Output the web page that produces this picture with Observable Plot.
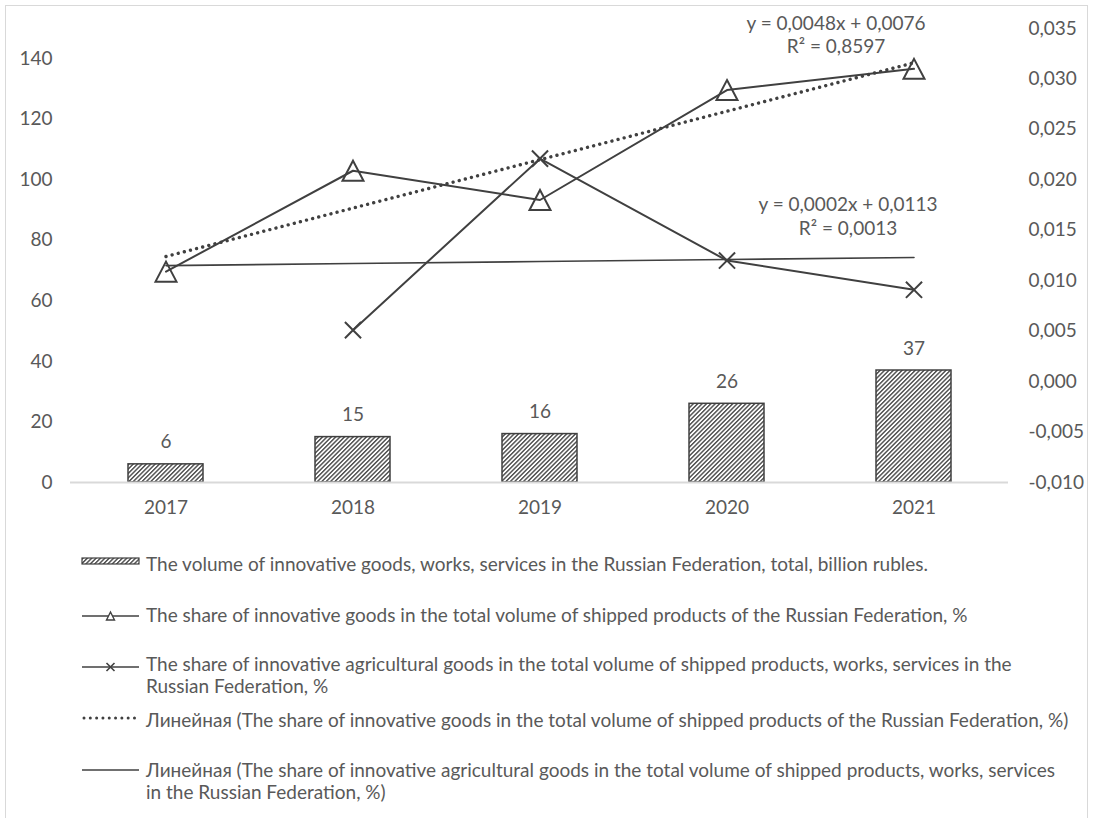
<!DOCTYPE html>
<html>
<head>
<meta charset="utf-8">
<script src="https://cdn.jsdelivr.net/npm/d3@7"></script>
<script src="https://cdn.jsdelivr.net/npm/@observablehq/plot@0.6"></script>
<style>
  html, body { margin: 0; padding: 0; background: #fff; }
  #wrap { position: relative; width: 1094px; height: 818px; overflow: hidden; font-family: Lato, "Open Sans", sans-serif; }
  #frame { position: absolute; left: 5px; top: 5px; width: 1083px; height: 840px; border: 1px solid #d9d9d9; box-sizing: border-box; }
  #chart { position: absolute; left: 0; top: 0; }
  #legend { position: absolute; left: 0; top: 530px; }
</style>
</head>
<body>
<div id="wrap">
  <div id="frame"></div>
  <div id="chart"></div>
  <div id="legend"></div>
</div>
<script>
// Years on the category axis
const years = ["2017", "2018", "2019", "2020", "2021"];
// Volume of innovative goods, works, services, billion rubles (left axis)
const volume = [6, 15, 16, 26, 37];
// Share of innovative goods in shipped products (right axis)
const shareInnovative = [0.0109, 0.0209, 0.0180, 0.0289, 0.0310];
// Share of innovative agricultural goods (right axis), no value for 2017
const shareAgricultural = [null, 0.0051, 0.0221, 0.0120, 0.0091];
// Linear trend lines: y = slope * x + intercept, x = 1..5
const trendSlope = [0.0048, 0.0002];
const trendIntercept = [0.0076, 0.0113];
const trendR2 = [0.8597, 0.0013];
// Axis ticks
const leftTicks = [0, 20, 40, 60, 80, 100, 120, 140];
const rightTicks = [-0.010, -0.005, 0.000, 0.005, 0.010, 0.015, 0.020, 0.025, 0.030, 0.035];
// Legend entries (wrapped lines)
const legendLabels = [
  ["The volume of innovative goods, works, services in the Russian Federation, total, billion rubles."],
  ["The share of innovative goods in the total volume of shipped products of the Russian Federation, %"],
  ["The share of innovative agricultural goods in the total volume of shipped products, works, services in the", "Russian Federation, %"],
  ["Линейная (The share of innovative goods in the total volume of shipped products of the Russian Federation, %)"],
  ["Линейная (The share of innovative agricultural goods in the total volume of shipped products, works, services", "in the Russian Federation, %)"]
];

const INK = "#404040";
const TEXT = "#595959";
const FONT = "19px";
const FAMILY = "Lato, 'Open Sans', sans-serif";

// Right axis [-0.010, 0.035] shares the frame with the left axis [0, 150]
const rMin = -0.010, rMax = 0.035, lMax = 150;
const toLeft = v => (v - rMin) / (rMax - rMin) * lMax;
const fromLeft = v => v / lMax * (rMax - rMin) + rMin;
const comma = (v, digits) => (Math.round(v * 10 ** digits) / 10 ** digits + 0).toFixed(digits).replace(".", ",");

const bars = years.map((year, i) => ({year, value: volume[i]}));
const innov = years.map((year, i) => ({year, value: toLeft(shareInnovative[i])}));
const agri = years.map((year, i) => ({year, value: shareAgricultural[i] == null ? null : toLeft(shareAgricultural[i])}));
const trends = trendSlope.map((s, k) =>
  years.map((year, i) => ({year, value: toLeft(s * (i + 1) + trendIntercept[k])})));
const equations = trendSlope.map((s, k) =>
  `y = ${comma(s, 4)}x + ${comma(trendIntercept[k], 4)}\nR² = ${comma(trendR2[k], 4)}`);

// Open triangle marker, centred on its bounding box
const triangle = {
  draw(ctx) {
    ctx.moveTo(0, -10);
    ctx.lineTo(10.5, 10);
    ctx.lineTo(-10.5, 10);
    ctx.closePath();
  }
};

const chart = Plot.plot({
  width: 1094,
  height: 530,
  marginTop: 28,
  marginBottom: 48,
  marginLeft: 70,
  marginRight: 86,
  style: {fontFamily: FAMILY, fontSize: FONT, color: TEXT, background: "transparent"},
  x: {domain: years, type: "band", paddingInner: 0.6, paddingOuter: 0.3},
  y: {domain: [0, lMax]},
  marks: [
    Plot.barY(bars, {x: "year", y: "value", fill: "url(#hatch)", stroke: INK, strokeWidth: 1.5}),
    Plot.ruleY([0], {stroke: "#d9d9d9", strokeWidth: 2}),
    Plot.text(bars, {x: "year", y: "value", text: d => String(d.value), dy: -22, fill: TEXT}),
    Plot.axisY(leftTicks, {anchor: "left", tickSize: 0, tickPadding: 18, label: null, fill: TEXT}),
    Plot.axisY(rightTicks.map(toLeft), {anchor: "right", tickSize: 0, tickPadding: 20, label: null, fill: TEXT,
      textAnchor: "start", tickFormat: v => comma(fromLeft(v), 3)}),
    Plot.axisX({tickSize: 0, tickPadding: 18, label: null, fill: TEXT}),
    Plot.line(innov, {x: "year", y: "value", stroke: INK, strokeWidth: 2}),
    Plot.line(agri, {x: "year", y: "value", stroke: INK, strokeWidth: 2}),
    Plot.line(trends[0], {x: "year", y: "value", stroke: INK, strokeWidth: 3.4, strokeDasharray: "0.01 6.3", strokeLinecap: "round"}),
    Plot.line(trends[1], {x: "year", y: "value", stroke: INK, strokeWidth: 1.6}),
    Plot.dot(innov, {x: "year", y: "value", symbol: triangle, stroke: INK, strokeWidth: 2, fill: "none"}),
    Plot.dot(agri.filter(d => d.value != null), {x: "year", y: "value", symbol: "times", r: 7.4, stroke: INK, strokeWidth: 2}),
    Plot.text([trends[0][4]], {x: "year", y: "value", text: () => equations[0], dx: -78, dy: -29, lineHeight: 1.24, fill: TEXT}),
    Plot.text([trends[1][4]], {x: "year", y: "value", text: () => equations[1], dx: -66, dy: -42, lineHeight: 1.24, fill: TEXT})
  ]
});

// Diagonal hatch used by the bars and the legend swatch
d3.select(chart).insert("defs", ":first-child")
  .append("pattern")
  .attr("id", "hatch")
  .attr("patternUnits", "userSpaceOnUse")
  .attr("width", 3.1).attr("height", 3.1)
  .attr("patternTransform", "rotate(45)")
  .call(p => p.append("rect").attr("width", 3.1).attr("height", 3.1).attr("fill", "#fff"))
  .call(p => p.append("rect").attr("width", 1.45).attr("height", 3.1).attr("fill", "#505050"));

document.getElementById("chart").append(chart);

// Legend below the plot
const legendTop = 530;
const rowY = [564, 615, 664, 720, 770];     // centre of each entry's first line
const swatchY = [561, 616, 667, 718, 770];
const lineStep = 22.5;
const lg = d3.select("#legend").append("svg")
  .attr("width", 1094).attr("height", 818 - legendTop)
  .style("font-family", FAMILY)
  .style("font-size", FONT);
const g = lg.append("g").attr("transform", `translate(0,${-legendTop})`);
const x0 = 82, x1 = 139, xm = (x0 + x1) / 2;

g.append("rect").attr("x", x0).attr("y", swatchY[0] - 3).attr("width", x1 - x0).attr("height", 6)
  .attr("fill", "url(#hatch)").attr("stroke", INK).attr("stroke-width", 1.2);
[1, 2].forEach(k => g.append("line").attr("x1", x0).attr("x2", x1).attr("y1", swatchY[k]).attr("y2", swatchY[k])
  .attr("stroke", INK).attr("stroke-width", 1.6));
g.append("path").attr("d", `M${xm},${swatchY[1] - 4}L${xm + 4},${swatchY[1] + 4}L${xm - 4},${swatchY[1] + 4}Z`)
  .attr("fill", "#fff").attr("stroke", INK).attr("stroke-width", 1.4);
g.append("path").attr("d", `M${xm - 4},${swatchY[2] - 4}L${xm + 4},${swatchY[2] + 4}M${xm + 4},${swatchY[2] - 4}L${xm - 4},${swatchY[2] + 4}`)
  .attr("stroke", INK).attr("stroke-width", 1.6);
g.append("line").attr("x1", x0 + 2).attr("x2", x1).attr("y1", swatchY[3]).attr("y2", swatchY[3])
  .attr("stroke", INK).attr("stroke-width", 3).attr("stroke-dasharray", "0.01 6.3").attr("stroke-linecap", "round");
g.append("line").attr("x1", x0).attr("x2", x1).attr("y1", swatchY[4]).attr("y2", swatchY[4])
  .attr("stroke", INK).attr("stroke-width", 1.6);

legendLabels.forEach((lines, k) => {
  const t = g.append("text").attr("fill", TEXT);
  lines.forEach((s, j) => t.append("tspan").attr("x", 146).attr("y", rowY[k] + j * lineStep).attr("dy", "0.36em").text(s));
});
</script>
</body>
</html>
